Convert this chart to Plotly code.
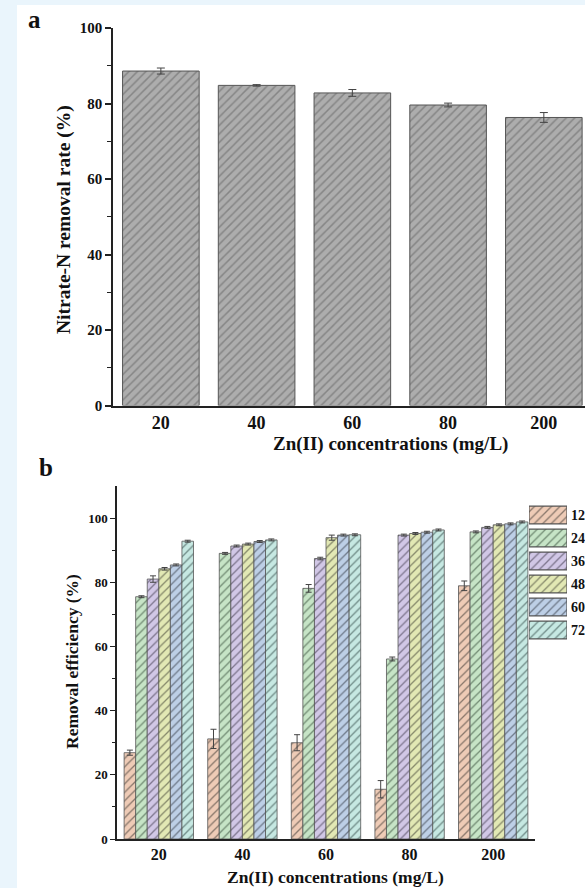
import plotly.graph_objects as go

# ---------------- data ----------------
conc_labels = ["20", "40", "60", "80", "200"]

# panel a: nitrate-N removal rate (%)
removal_a = [88.6, 84.8, 82.8, 79.6, 76.3]
removal_a_err = [0.8, 0.2, 0.9, 0.5, 1.3]

# panel b: removal efficiency (%) at each time
time_labels = ["12", "24", "36", "48", "60", "72"]
eff_12 = [26.9, 31.2, 30.0, 15.5, 78.9]
eff_24 = [75.5, 89.0, 78.1, 56.1, 95.7]
eff_36 = [81.0, 91.3, 87.4, 94.7, 97.1]
eff_48 = [84.2, 91.9, 93.9, 95.2, 97.9]
eff_60 = [85.4, 92.7, 94.7, 95.6, 98.2]
eff_72 = [92.8, 93.2, 94.8, 96.3, 98.8]
err_12 = [0.8, 3.0, 2.5, 2.7, 1.5]
err_24 = [0.3, 0.3, 1.2, 0.6, 0.3]
err_36 = [1.0, 0.3, 0.4, 0.3, 0.3]
err_48 = [0.4, 0.3, 0.8, 0.3, 0.3]
err_60 = [0.3, 0.3, 0.3, 0.3, 0.3]
err_72 = [0.3, 0.3, 0.3, 0.3, 0.3]

series_b = [eff_12, eff_24, eff_36, eff_48, eff_60, eff_72]
errors_b = [err_12, err_24, err_36, err_48, err_60, err_72]
fill_colors = ["#eecbb6", "#c6e4c6", "#d1c7e6", "#e2e8b4", "#bdcfe6", "#c6e8e2"]
hatch_colors = ["#8a786c", "#728c74", "#7e768e", "#878a6c", "#6f7a8a", "#708c88"]

W, H = 585, 888
FONT = "Liberation Serif"

def px(xp):
    return xp / W

def py(yp):
    return 1 - yp / H

fig = go.Figure()

# ---------------- panel a ----------------
fig.add_trace(go.Bar(
    x=conc_labels, y=removal_a, width=0.8,
    xaxis="x", yaxis="y",
    marker=dict(color="#ababab", line=dict(color="#555555", width=1),
                pattern=dict(shape="/", fgcolor="#858585", bgcolor="#adadad",
                             size=6, solidity=0.25)),
    error_y=dict(type="data", array=removal_a_err, color="#444444",
                 thickness=1, width=4),
    showlegend=False,
))

# ---------------- panel b ----------------
for name, vals, errs, fc, hc in zip(time_labels, series_b, errors_b,
                                     fill_colors, hatch_colors):
    fig.add_trace(go.Bar(
        x=conc_labels, y=vals, name=name,
        xaxis="x2", yaxis="y2",
        marker=dict(color=fc, line=dict(color="#555555", width=0.8),
                    pattern=dict(shape="/", fgcolor=hc, bgcolor=fc,
                                 size=6, solidity=0.22)),
        error_y=dict(type="data", array=errs, color="#444444",
                     thickness=1, width=3),
        showlegend=False,
    ))

# legend boxes drawn as bars on an auxiliary axis (one trace per entry)
for i, (name, fc, hc) in enumerate(zip(time_labels, fill_colors, hatch_colors)):
    fig.add_trace(go.Bar(
        y=[i], x=[1], orientation="h", width=0.78, offset=-0.39,
        xaxis="x3", yaxis="y3",
        marker=dict(color=fc, line=dict(color="#555555", width=1.2),
                    pattern=dict(shape="/", fgcolor=hc, bgcolor=fc,
                                 size=6, solidity=0.22)),
        showlegend=False, hoverinfo="skip",
    ))
    fig.add_annotation(x=1, y=i, xref="x3", yref="y3", text=name,
                       showarrow=False, xanchor="left", yanchor="middle", xshift=2,
                       font=dict(family=FONT, size=14, color="#111", weight="bold"))

axis_common = dict(showgrid=False, zeroline=False, showline=True,
                   linecolor="#222222", linewidth=1.5)

fig.update_layout(
    width=W, height=H,
    margin=dict(l=0, r=0, t=0, b=0, autoexpand=False),
    paper_bgcolor="white", plot_bgcolor="white",
    template="none",
    barmode="group", bargap=0.17, bargroupgap=0,
    showlegend=False,
    xaxis=dict(domain=[px(113), 1.0], range=[-0.5, 4.43], anchor="y",
               type="category", ticks="",
               tickfont=dict(family=FONT, size=18, color="#111", weight="bold"),
               **axis_common),
    yaxis=dict(domain=[py(405.5), py(28)], range=[0, 100], anchor="x",
               tickvals=[0, 20, 40, 60, 80, 100], ticks="outside", ticklen=6,
               tickwidth=1.5, tickcolor="#222",
               minor=dict(tickvals=[10, 30, 50, 70, 90], ticks="outside",
                          ticklen=4, tickwidth=1.2, tickcolor="#222"),
               tickfont=dict(family=FONT, size=15, color="#111", weight="bold"),
               **axis_common),
    xaxis2=dict(domain=[px(117), px(535)], range=[-0.5, 4.5], anchor="y2",
                type="category", ticks="",
                tickfont=dict(family=FONT, size=16, color="#111", weight="bold"),
                **axis_common),
    yaxis2=dict(domain=[py(839), py(486)], range=[0, 110], anchor="x2",
                tickvals=[0, 20, 40, 60, 80, 100], ticks="outside", ticklen=5,
                tickwidth=1.2, tickcolor="#222",
                minor=dict(tickvals=[10, 30, 50, 70, 90], ticks="outside",
                           ticklen=3, tickwidth=1, tickcolor="#222"),
                tickfont=dict(family=FONT, size=13, color="#111", weight="bold"),
                **axis_common),
    xaxis3=dict(domain=[px(529), px(567)], range=[0, 1], anchor="y3",
                visible=False, fixedrange=True),
    yaxis3=dict(domain=[py(641.5), py(503.5)], range=[5.5, -0.5], anchor="x3",
                visible=False, fixedrange=True),
)

# light blue page border strips
fig.add_shape(type="rect", xref="paper", yref="paper", x0=0, x1=px(17),
              y0=0, y1=1, fillcolor="#eaf5fc", line_width=0, layer="below")
fig.add_shape(type="rect", xref="paper", yref="paper", x0=0, x1=1,
              y0=py(5), y1=1, fillcolor="#eaf5fc", line_width=0, layer="below")

def label(text, x, y, size, angle=0):
    fig.add_annotation(x=px(x), y=py(y), xref="paper", yref="paper", text=text,
                       textangle=angle, showarrow=False,
                       xanchor="center", yanchor="middle",
                       font=dict(family=FONT, size=size, color="#111", weight="bold"))

# panel labels and axis titles
label("a", 34, 20, 25)
label("b", 46, 468, 25)
label("Nitrate-N removal rate (%)", 64, 220, 19.5, -90)
label("Zn(II) concentrations (mg/L)", 390, 444, 19)
label("Removal efficiency (%)", 72, 662, 17.5, -90)
label("Zn(II) concentrations (mg/L)", 335, 877, 17.5)

fig.write_html("out.html")
